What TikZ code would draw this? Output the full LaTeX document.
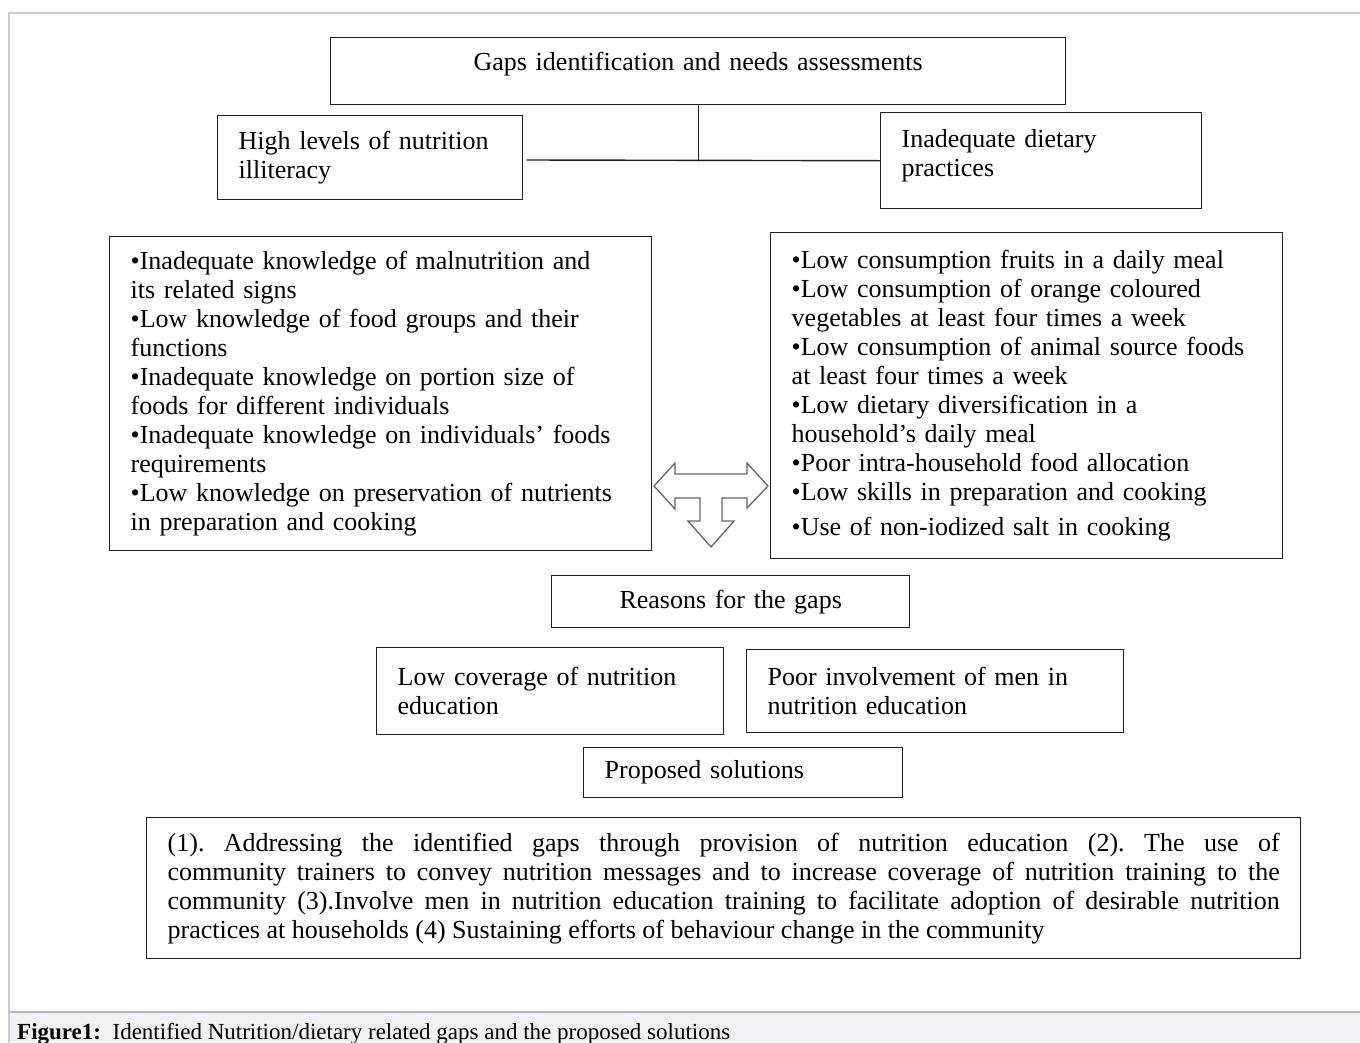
\documentclass[tikz,border=0pt]{standalone}
\usepackage{fontspec}
\setmainfont{Liberation Serif}
\frenchspacing
\definecolor{framec}{HTML}{C6C6E2}
\definecolor{capfill}{HTML}{F0F1F5}
\definecolor{capline}{HTML}{B3B3E0}
\definecolor{ink}{HTML}{222222}
\begin{document}
\begin{tikzpicture}[x=1pt,y=-1pt,line cap=round,font=\fontsize{26}{29}\selectfont,
	box/.style={draw=ink,line width=1.4pt,anchor=north west,inner xsep=21pt,inner ysep=2pt,align=left},
	link/.style={draw=ink,line width=1.4pt},
	tarrow/.style={draw=gray!80!black,line width=1.3pt,fill=white,line join=miter}]
	\useasboundingbox (0,0) rectangle (1360,1042);
	% frame and caption band
	\fill[capfill] (10,1012) rectangle (1360,1042);
	\draw[capline,line width=1.2pt] (10,1012) -- (1360,1012);
	\draw[framec,line width=1.2pt] (9,1042) -- (9,13) -- (1360,13);
	\node[anchor=base west,inner sep=0pt,font=\fontsize{23}{25}\selectfont] (cap) at (17,1039) {\textbf{Figure1:}\ \ Identified Nutrition/dietary related gaps and the proposed solutions};
	% gaps
	\node[box,align=center,text width=693pt,minimum height=67pt,text depth=20pt] (gaps) at (330,37) {Gaps identification and needs assessments};
	\node[box,text width=263pt,minimum height=84pt] (illit) at (217,115) {High levels of nutrition\\illiteracy};
	\node[box,text width=279pt,minimum height=96pt,text depth=44pt] (diet) at (880,112) {Inadequate dietary\\practices};
	\coordinate (lend) at (527,160);
	\draw[link] (gaps.south) -- (gaps.south |- diet.west);
	\draw[link] (lend) -- (diet.west);
	\node[box,text width=500pt,minimum height=314pt] (know) at (109,236) {•Inadequate knowledge of malnutrition and\\its related signs\\•Low knowledge of food groups and their\\functions\\•Inadequate knowledge on portion size of\\foods for different individuals\\•Inadequate knowledge on individuals’ foods\\requirements\\•Low knowledge on preservation of nutrients\\in preparation and cooking};
	\node[box,text width=470pt,minimum height=326pt] (cons) at (770,232) {•Low consumption fruits in a daily meal\\•Low consumption of orange coloured\\vegetables at least four times a week\\•Low consumption of animal source foods\\at least four times a week\\•Low dietary diversification in a\\household’s daily meal\\•Poor intra-household food allocation\\•Low skills in preparation and cooking\\[6pt]•Use of non-iodized salt in cooking};
	\draw[tarrow] (654,486) -- (675,463) -- (675,474) -- (747,474) -- (747,463) -- (768,486) -- (747,508) -- (747,498) -- (722,498) -- (722,521) -- (734,521) -- (711,547) -- (688,521) -- (700,521) -- (700,498) -- (675,498) -- (675,509) -- cycle;
	% reasons
	\node[box,align=center,text width=316pt,minimum height=52pt] (reas) at (551,575) {Reasons for the gaps};
	\node[box,text width=305pt,minimum height=87pt] (cover) at (376,647) {Low coverage of nutrition\\education};
	\node[box,text width=335pt,minimum height=83pt] (men) at (746,649) {Poor involvement of men in\\nutrition education};
	% solutions
	\node[box,text width=277pt,minimum height=50pt] (prop) at (583,747) {Proposed solutions};
	\node[box,align=justify,text width=1112pt,minimum height=141pt] (sol) at (146,817) {(1). Addressing the identified gaps through provision of nutrition education (2). The use of\linebreak community trainers to convey nutrition messages and to increase coverage of nutrition training to the\linebreak community (3).Involve men in nutrition education training to facilitate adoption of desirable nutrition\linebreak practices at households (4) Sustaining efforts of behaviour change in the community};
\end{tikzpicture}
\end{document}
